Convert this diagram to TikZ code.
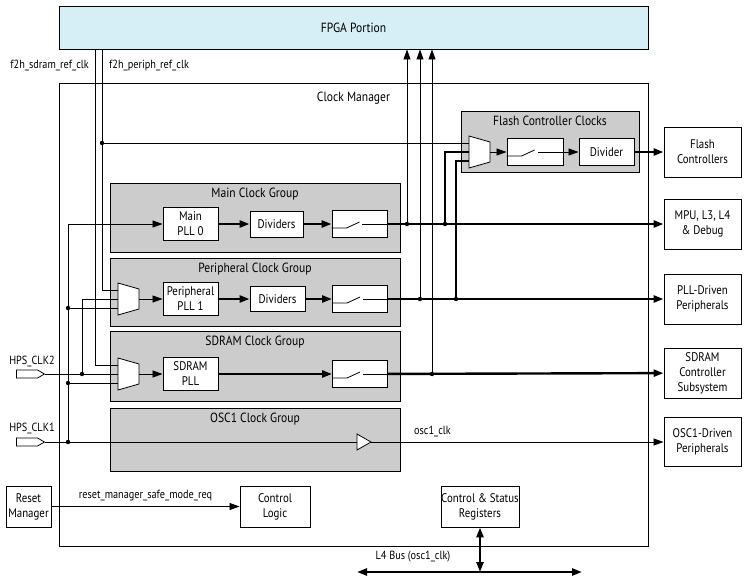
\documentclass[tikz,border=0pt]{standalone}
\usepackage{fontspec}
\setmainfont{PT Sans}[FakeStretch=0.87]
\usetikzlibrary{arrows.meta,shapes.symbols,positioning}
\definecolor{fpgablue}{RGB}{214,238,245}
\definecolor{grpgray}{RGB}{204,204,204}
\tikzset{
  box/.style={draw, fill=white, line width=0.9pt, align=center, inner sep=0pt,
    font=\fontsize{12.5}{15}\selectfont},
  grp/.style={draw, fill=grpgray, line width=0.9pt, inner sep=0pt},
  grptitle/.style={font=\fontsize{13.3}{15}\selectfont, inner sep=0pt},
  sig/.style={font=\fontsize{11.8}{13}\selectfont, inner sep=0pt},
  wire/.style={line width=0.8pt},
  bus/.style={line width=2.4pt},
  pin/.style={signal, signal to=east, signal pointer angle=60, draw, line width=0.8pt,
    minimum width=28pt, minimum height=8pt, inner sep=0pt},
  >={Triangle[length=10pt,width=7pt]}
}
\begin{document}
\begin{tikzpicture}[x=1pt, y=-1pt]
\useasboundingbox (0,0) rectangle (747,579);
% outer blocks
\node[draw, fill=fpgablue, line width=0.9pt, minimum width=589pt, minimum height=43pt,
  font=\fontsize{13.3}{15}\selectfont] (fpga) at (353.5,27.5) {FPGA Portion};
\node[draw, line width=0.9pt, minimum width=589pt, minimum height=463pt] (clkmgr) at (353.5,314.5) {};
\node[grptitle, below=9pt of clkmgr.north] (clkmgrtitle) {Clock Manager};
% clock groups
\node[grp, minimum width=290pt, minimum height=69pt] (maingrp) at (255,217.5) {};
\node[grp, minimum width=290pt, minimum height=68pt] (periphgrp) at (255,292) {};
\node[grp, minimum width=290pt, minimum height=70pt] (sdramgrp) at (255,366) {};
\node[grp, minimum width=290pt, minimum height=63pt] (oscgrp) at (255,439.5) {};
\node[grp, minimum width=178pt, minimum height=61pt] (flashgrp) at (550,141.5) {};
\node[grptitle, below=5pt of maingrp.north] (maintitle) {Main Clock Group};
\node[grptitle, below=5pt of periphgrp.north] (periphtitle) {Peripheral Clock Group};
\node[grptitle, below=5pt of sdramgrp.north] (sdramtitle) {SDRAM Clock Group};
\node[grptitle, below=5pt of oscgrp.north] (osctitle) {OSC1 Clock Group};
\node[grptitle, below=5pt of flashgrp.north] (flashtitle) {Flash Controller Clocks};
% blocks inside the groups
\node[box, minimum width=55pt, minimum height=33pt] (mainpll) at (190.5,224) {Main\\PLL 0};
\node[box, minimum width=53pt, minimum height=26pt] (maindiv) at (276.5,224) {Dividers};
\node[box, minimum width=55pt, minimum height=27pt] (mainsw) at (359.5,224) {};
\node[box, minimum width=55pt, minimum height=33pt] (periphpll) at (190.5,299) {Peripheral\\PLL 1};
\node[box, minimum width=55pt, minimum height=25pt] (periphdiv) at (277.5,299) {Dividers};
\node[box, minimum width=55pt, minimum height=27pt] (periphsw) at (360,299) {};
\node[box, minimum width=55pt, minimum height=33pt] (sdrampll) at (190.5,374) {SDRAM\\PLL};
\node[box, minimum width=55pt, minimum height=27pt] (sdramsw) at (360,374) {};
\node[box, minimum width=56pt, minimum height=27pt] (flashsw) at (535,152) {};
\node[box, minimum width=55pt, minimum height=27pt] (flashdiv) at (606.5,152) {Divider};
% targets
\node[box, minimum width=77pt, minimum height=50pt] (flashctl) at (702.5,152) {Flash\\Controllers};
\node[box, minimum width=77pt, minimum height=50pt] (mpu) at (702.5,224) {MPU, L3, L4\\\& Debug};
\node[box, minimum width=77pt, minimum height=50pt] (plldrv) at (702.5,299) {PLL-Driven\\Peripherals};
\node[box, minimum width=77pt, minimum height=50pt] (sdramctl) at (702.5,373) {SDRAM\\Controller\\Subsystem};
\node[box, minimum width=77pt, minimum height=49pt] (oscdrv) at (702.5,442) {OSC1-Driven\\Peripherals};
\node[box, minimum width=78pt, minimum height=41pt] (csr) at (480,506.5) {Control \& Status\\Registers};
\node[box, minimum width=70pt, minimum height=41pt] (ctrl) at (275,506.5) {Control\\Logic};
\node[box, minimum width=45pt, minimum height=41pt] (reset) at (28.5,506.5) {Reset\\Manager};
% clock pins
\node[pin] (clk2) at (27,374) {};
\node[pin] (clk1) at (27,442) {};
\node[sig] (clk2lbl) at (32,362) {HPS\_CLK2};
\node[sig] (clk1lbl) at (32,429) {HPS\_CLK1};
\node[sig, anchor=east] (sreflbl) at (89,66) {f2h\_sdram\_ref\_clk};
\node[sig, anchor=west] (preflbl) at (109,66) {f2h\_periph\_ref\_clk};
% muxes
\foreach \m/\x/\y in {pmux/118/299, smux/118/374, fmux/469/152}
{
  \draw[wire, fill=white] (\x,\y-16) -- (\x+21,\y-10) -- (\x+21,\y+10) -- (\x,\y+16) -- cycle;
  \path (\x,\y-9) coordinate (\m-a) (\x,\y) coordinate (\m-b)
        (\x,\y+9) coordinate (\m-c) (\x+21,\y) coordinate (\m-out);
}
% osc1 buffer
\draw[wire, fill=white] (357,434) -- (371,442) -- (357,450) -- cycle;
\path (357,442) coordinate (bufin) (371,442) coordinate (bufout);
% switch symbols
\foreach \s in {mainsw, periphsw, sdramsw, flashsw}
{
  \draw[wire] (\s.west) ++(0,4) -- ++(15,0) -- ++(13,-6);
  \draw[wire] (\s.east) -- ++(-25,0);
}
% junctions
\path (102,143) coordinate (jpref)
      (95,60) coordinate (sref)
      (82,374) coordinate (jclk2)
      (68,442) coordinate (jclk1)
      (407,224) coordinate (upmain)
      (420,299) coordinate (upperiph)
      (432,374) coordinate (upsdram)
      (445,224) coordinate (fmain)
      (456,299) coordinate (fperiph);
\path (jclk1 |- pmux-c) coordinate (jclk1p)
      (jclk1 |- smux-c) coordinate (jclk1s);
% reference clocks
\draw[wire] (fpga.south -| jpref) |- (pmux-a);
\draw[wire] (jpref) -- (fmux-a);
\draw[wire] (fpga.south -| sref) |- (smux-a);
\draw[wire] (clk2.east) -- (smux-b);
\draw[wire] (jclk2) |- (pmux-b);
\draw[wire] (clk1.east) -- (bufin);
\draw[wire, ->] (jclk1) |- (mainpll.west);
\draw[wire] (jclk1p) -- (pmux-c);
\draw[wire] (jclk1s) -- (smux-c);
\draw[wire, ->] (pmux-out) -- (periphpll.west);
\draw[wire, ->] (smux-out) -- (sdrampll.west);
\draw[wire, ->] (bufout) -- node[sig, above=5pt, pos=0.21] (osclbl) {osc1\_clk} (oscdrv.west);
% clock outputs
\foreach \a/\b in {mainpll/maindiv, maindiv/mainsw, mainsw/mpu, periphpll/periphdiv,
  periphdiv/periphsw, periphsw/plldrv, sdrampll/sdramsw, sdramsw/sdramctl, flashdiv/flashctl}
  \draw[bus, ->] (\a) -- (\b);
\foreach \c in {upmain, upperiph, upsdram}
  \draw[wire, ->] (\c) -- (\c |- fpga.south);
\draw[bus] (fmain) |- (fmux-b);
\draw[bus] (fperiph) |- (fmux-c);
\draw[wire, ->] (fmux-out) -- (flashsw);
\draw[wire, ->] (flashsw) -- (flashdiv);
\foreach \c in {jpref, jclk1, jclk1p, jclk1s, jclk2, upmain, upperiph, upsdram, fmain, fperiph}
  \fill (\c) circle (2.2);
% reset and bus
\draw[wire, ->] (reset) -- node[sig, above=5pt] (rstlbl) {reset\_manager\_safe\_mode\_req} (ctrl);
\path (357,572) coordinate (l4a) (582,572) coordinate (l4b);
\draw[bus, <->] (l4a) -- (l4b);
\draw[bus, <->] (csr.south) -- (csr.south |- l4a);
\node[sig] (l4lbl) at (413,557) {L4 Bus (osc1\_clk)};
\end{tikzpicture}
\end{document}
